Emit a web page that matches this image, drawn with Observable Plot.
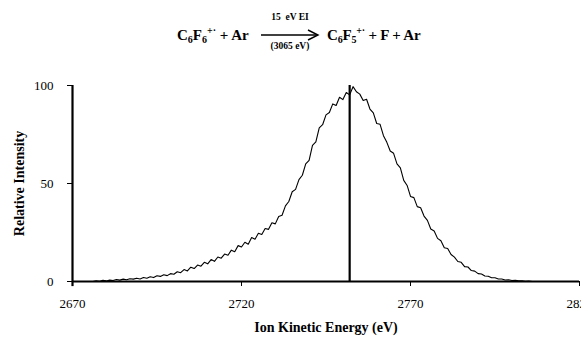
<!DOCTYPE html>
<html>
<head>
<meta charset="utf-8">
<script src="https://cdn.jsdelivr.net/npm/d3@7"></script>
<script src="https://cdn.jsdelivr.net/npm/@observablehq/plot@0.6"></script>
<style>
  html, body { margin: 0; padding: 0; background: #fff; }
  #wrap { position: relative; width: 581px; height: 339px; overflow: hidden; font-family: "Liberation Serif", "DejaVu Serif", serif; }
  #title { position: relative; height: 60px; width: 581px; font-weight: bold; color: #000; }
  .eq { position: absolute; top: 25px; font-size: 15px; white-space: nowrap; }
  .eq sub { font-size: 10px; vertical-align: -3px; }
  .eq sup { font-size: 10px; vertical-align: 6px; }
  .small { position: absolute; font-size: 9.5px; white-space: nowrap; transform: translateX(-50%); }
  #arrow { position: absolute; left: 261px; top: 29px; }
  #chart { position: absolute; left: 0; top: 60px; }
</style>
</head>
<body>
<div id="wrap">
  <div id="title">
    <div class="eq" style="left:177px">C<sub>6</sub>F<sub>6</sub><sup>+·</sup> + Ar</div>
    <div class="small" style="left:290px; top:12px">15&nbsp; eV EI</div>
    <svg id="arrow" width="60" height="12"><line x1="0" y1="6" x2="56" y2="6" stroke="#000" stroke-width="1.4"/><path d="M47,1 L57,6 L47,11" fill="none" stroke="#000" stroke-width="1.4"/></svg>
    <div class="small" style="left:290px; top:41px">(3065 eV)</div>
    <div class="eq" style="left:327px; letter-spacing:-0.2px">C<sub>6</sub>F<sub>5</sub><sup>+·</sup> + F + Ar</div>
  </div>
  <div id="chart"></div>
</div>
<script>
const energy = [2676,2677,2678,2679,2680,2681,2682,2683,2684,2685,2686,2687,2688,2689,2690,2691,2692,2693,2694,2695,2696,2697,2698,2699,2700,2701,2702,2703,2704,2705,2706,2707,2708,2709,2710,2711,2712,2713,2714,2715,2716,2717,2718,2719,2720,2721,2722,2723,2724,2725,2726,2727,2728,2729,2730,2731,2732,2733,2734,2735,2736,2737,2738,2739,2740,2741,2742,2743,2744,2745,2746,2747,2748,2749,2750,2751,2752,2753,2754,2755,2756,2757,2758,2759,2760,2761,2762,2763,2764,2765,2766,2767,2768,2769,2770,2771,2772,2773,2774,2775,2776,2777,2778,2779,2780,2781,2782,2783,2784,2785,2786,2787,2788,2789,2790,2791,2792,2793,2794,2795,2796,2797,2798,2799,2800,2801,2802,2803,2804,2805,2806];
const intensity = [
  0,0.3,0.1,0.6,0.3,0.7,0.5,1.0,0.7,1.2,
  0.9,1.4,1.2,1.7,1.3,2.0,1.7,2.4,2.0,2.9,
  2.6,3.4,3.0,4.0,3.7,5.0,4.5,6.1,5.4,7.3,
  6.6,8.4,7.8,9.8,9.0,11.2,10.3,12.5,11.9,14.0,
  13.4,16.0,15.2,18.3,17.6,20.0,19.0,22.4,21.6,24.6,
  24.0,27.0,26.6,30.0,29.4,33.2,33.8,38.6,40.8,45.8,
  47.0,52.0,54.2,60.0,61.8,69.4,71.2,78.4,80.0,85.0,
  86.2,90.6,89.8,94.0,92.8,96.4,95.2,99.4,96.8,95.6,
  92.4,93.0,88.0,86.0,80.6,80.2,74.4,71.0,66.6,65.4,
  60.0,58.0,51.6,49.0,43.4,42.8,38.2,37.6,33.4,31.2,
  26.8,25.8,22.0,20.8,17.2,16.8,13.8,12.4,10.2,9.8,
  7.6,7.4,5.6,5.3,4.0,3.8,2.8,2.7,1.9,1.9,
  1.3,1.3,0.8,0.9,0.5,0.6,0.3,0.4,0.1,0.2,
  0];
const peakEnergy = [2752];
const xTicks = [2670, 2720, 2770, 2820];
const yTicks = [0, 50, 100];

const data = energy.map((e, i) => ({e, v: intensity[i]}));

const chart = Plot.plot({
  width: 581,
  height: 279,
  marginLeft: 72,
  marginRight: 2,
  marginTop: 25,
  marginBottom: 58,
  style: {fontFamily: "'Liberation Serif', 'DejaVu Serif', serif", fontSize: "13px", color: "#000", background: "#fff"},
  x: {domain: [2670, 2820]},
  y: {domain: [0, 100]},
  marks: [
    Plot.axisX({ticks: xTicks, tickSize: 5, tickPadding: 12, tickFormat: d => String(d), label: "Ion Kinetic Energy (eV)", labelAnchor: "center", labelArrow: "none", labelOffset: 50, fontSize: 13}),
    Plot.axisY({ticks: yTicks, tickSize: 5, tickPadding: 14, label: "Relative Intensity", labelAnchor: "center", labelArrow: "none", labelOffset: 58, fontSize: 13}),
    Plot.ruleY([0], {stroke: "#000", strokeWidth: 2.2}),
    Plot.ruleX([2670], {y1: -2.6, y2: 100, stroke: "#000", strokeWidth: 2.2, clip: false}),
    Plot.line(data, {x: "e", y: "v", stroke: "#000", strokeWidth: 1.1}),
    Plot.ruleX(peakEnergy, {y1: 0, y2: 100, stroke: "#000", strokeWidth: 2.2})
  ]
});
document.getElementById("chart").appendChild(chart);
chart.querySelectorAll('g[aria-label="x-axis label"] text, g[aria-label="y-axis label"] text').forEach(t => {
  t.style.fontWeight = "bold";
  t.style.fontSize = "14px";
});
</script>
</body>
</html>
